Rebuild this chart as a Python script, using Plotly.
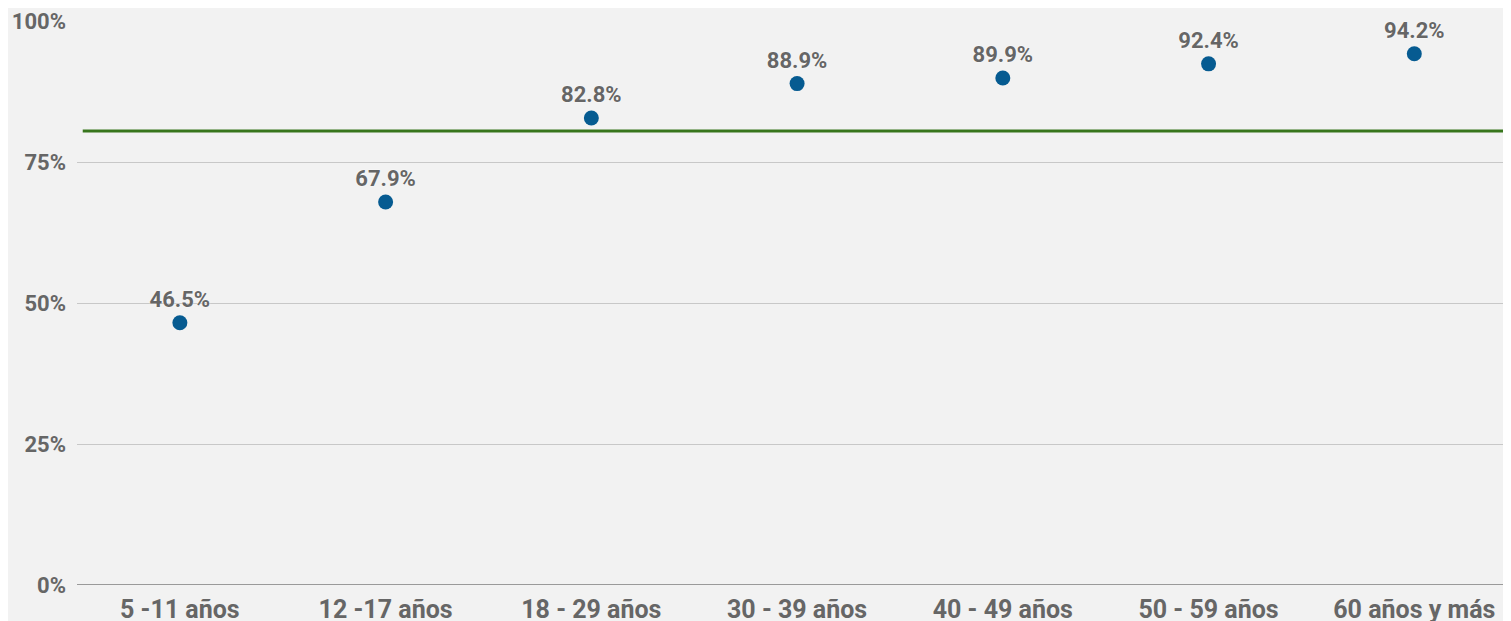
import plotly.graph_objects as go

grupos = ['5 -11 años', '12 -17 años', '18 - 29 años', '30 - 39 años',
          '40 - 49 años', '50 - 59 años', '60 años y más']
porcentajes = [46.5, 67.9, 82.8, 88.9, 89.9, 92.4, 94.2]
meta = 80.5
ticks_y = [0, 25, 50, 75, 100]
ticks_y_txt = ['0%', '25%', '50%', '75%', '100%']

gris = '#666666'
fuente = 'Roboto'

fig = go.Figure()

fig.add_trace(go.Scatter(
    x=grupos,
    y=porcentajes,
    mode='markers+text',
    marker=dict(size=15, color='#065b91'),
    text=[f'{v:.1f}%' for v in porcentajes],
    textposition='top center',
    textfont=dict(family=fuente, size=22, color=gris, weight='bold',
                  shadow='0px 0px 2px white'),
    cliponaxis=False,
    showlegend=False,
    hoverinfo='x+y',
))

fig.add_shape(type='line', xref='paper', yref='y',
              x0=0.004, x1=1, y0=meta, y1=meta,
              line=dict(color='#38761d', width=3))

# la página deja 8px de margen en el body
fig.update_layout(
    width=1503, height=613,
    margin=dict(l=69, r=0, t=13, b=36),
    paper_bgcolor='#f2f2f2',
    plot_bgcolor='#f2f2f2',
    font=dict(family=fuente, size=20, color=gris),
    xaxis=dict(
        range=[-0.5, 6.47],
        showgrid=False,
        tickfont=dict(family=fuente, size=25, color=gris, weight='bold'),
        ticks='',
        showline=False,
        zeroline=False,
        ticklabelstandoff=7,
        automargin=False,
    ),
    yaxis=dict(
        range=[0, 100],
        tickvals=ticks_y,
        ticktext=ticks_y_txt,
        tickfont=dict(family=fuente, size=22, color=gris, weight='bold'),
        gridcolor='#c8c8c8',
        gridwidth=1,
        zeroline=False,
        showline=False,
        ticklabelstandoff=10,
        automargin=False,
    ),
)

fig.add_shape(type='line', xref='paper', yref='y', x0=0, x1=1, y0=0, y1=0,
              line=dict(color='#9a9a9a', width=2), layer='below')

fig.write_html('out.html')
